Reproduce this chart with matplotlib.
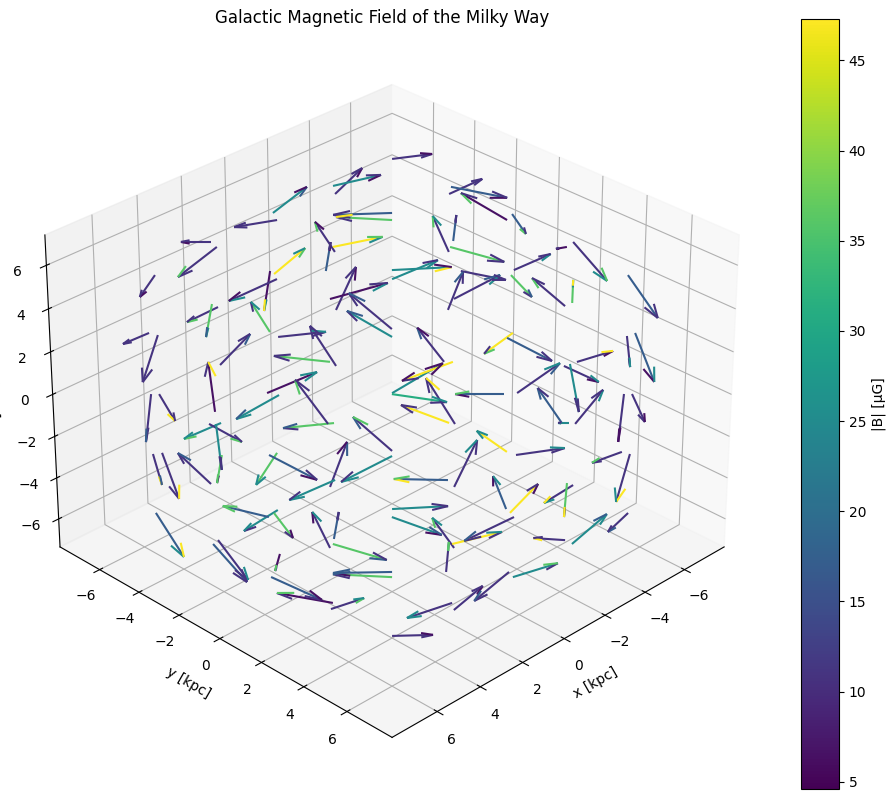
# Galactic magnetic field arrows
import numpy as np
import matplotlib
matplotlib.use('Agg')
import matplotlib.pyplot as plt

# Arrow tails [kpc]
x = [-0.03, -0.04, 1.90, 1.84, 3.76, 0.90, 0.95, 0.91, 2.76, 2.86,
     1.92, -3.76, -1.83, -1.91, -2.89, -2.78, -0.90, -0.93, -0.38, -0.00,
     -0.03, -1.03, -0.91, -3.62, -3.90, -4.56, -4.72, -5.53, -3.73, -1.97,
     -1.83, -2.67, -2.99, -3.60, -5.74, -6.52, -4.88, -6.75, -7.52, -4.73,
     -5.52, -5.74, 4.81, 4.63, 3.62, 4.47, 2.69, 2.94, 1.80, 0.88,
     0.96, 4.50, 4.80, 4.64, 5.52, 5.71, 6.59, 6.36, 5.68, 3.64,
     3.86, 1.83, 1.98, 0.89, 0.97, 2.92, -1.75, -0.02, -1.96, -0.00,
     -1.02, -0.90, -2.66, -0.01, -3.85, -3.63, -4.90, -2.99, -4.53, -4.71,
     -3.87, -6.51, -6.75, -5.51, -5.70, -4.53, -4.69, -3.74, -3.57, -1.98,
     -1.81, 7.43, 6.38, 6.56, 4.51, 4.83, 4.65, 5.14, 5.70, 4.65,
     2.69, 0.03, 1.80, 1.93, 3.87, 3.64, 3.74, 0.95, 1.51, 1.85,
     1.92, 3.77, 2.78, 2.86, 4.79, 0.03, -0.95, 0.93, -0.89, -0.92,
     -2.85, -2.74, -1.89, -3.70, -1.79, 0.02, 4.98]
y = [-5.53, -5.74, -6.75, -6.53, -7.55, -4.73, -4.87, -4.58, -5.53, -5.72,
     -3.89, -3.76, -4.56, -4.74, -2.89, -2.78, -3.63, -3.76, -3.54, -2.67,
     -2.99, -1.04, -0.91, -0.91, -0.98, -1.83, -1.90, -0.03, -0.96, -1.98,
     -1.83, -0.01, -0.04, -0.32, -0.00, 1.83, 0.93, 1.90, 3.73, 0.94,
     2.72, 2.84, -6.75, -6.51, -4.55, -3.92, -2.67, -2.99, -3.62, -1.78,
     -1.99, -3.60, -3.87, -3.70, -5.53, -5.72, -4.72, -4.52, -2.87, -1.80,
     -1.96, -0.92, -1.05, 0.89, 0.97, -0.01, 0.72, -0.02, 0.93, -0.01,
     1.96, 1.80, 2.65, 2.92, 1.90, 1.84, 3.88, 2.94, 3.63, 3.74,
     4.80, 4.66, 4.81, 5.49, 5.68, 6.34, 6.56, 4.64, 4.47, 3.88,
     3.62, -3.71, -1.82, -1.87, -0.88, -0.98, -0.92, -0.14, 0.01, 1.87,
     -0.00, 2.67, 1.80, 1.92, 0.95, 0.90, 0.95, 3.87, 4.05, 4.67,
     4.82, 3.77, 2.78, 2.86, 1.92, 5.53, 4.80, 3.76, 4.49, 4.64,
     5.70, 5.52, 6.58, 7.43, 6.36, 5.70, -3.07]
z = [5.55, 5.78, 4.85, 4.69, 3.79, 3.82, 3.92, 3.66, 2.77, 2.87,
     1.98, 7.52, 6.39, 6.65, 5.78, 5.55, 4.53, 4.69, 3.92, 2.68,
     3.03, 2.07, 1.82, 4.53, 4.88, 6.39, 6.62, 5.55, 4.69, 3.95,
     3.66, 2.68, 3.03, 3.92, 5.75, 4.69, 3.95, 4.85, 3.79, 3.79,
     2.80, 2.90, 1.95, 1.88, 0.93, -0.55, -0.02, 0.04, 1.82, 0.90,
     1.03, -0.90, -0.93, -0.93, 0.01, 0.01, -1.88, -1.84, -2.82, -1.84,
     -1.91, -0.90, -0.93, -1.78, -1.94, -2.91, 1.03, 0.04, 1.03, 0.01,
     -0.93, -0.90, 0.01, -2.91, 1.95, 1.79, 1.03, 0.04, 0.90, 0.96,
     -0.93, 1.85, 1.95, 0.01, 0.01, -1.81, -1.88, -0.90, -0.90, -1.91,
     -1.81, -3.72, -4.57, -4.69, -3.63, -3.85, -3.72, -5.00, -5.72, -6.52,
     -2.69, -2.69, -3.60, -3.85, -4.81, -4.53, -4.69, -4.81, -5.56, -6.52,
     -6.74, -7.54, -5.56, -5.72, -6.71, -5.56, -3.85, -4.69, -3.60, -3.72,
     -2.85, -2.79, -4.69, -3.72, -4.57, -5.72, -1.91]

# Field components, as drawn
bx = [1.03, -0.82, 0.72, 0.95, 0.38, -0.75, 0.74, 1.16, 0.75, 0.73,
      0.44, -0.96, -0.65, -1.15, 1.41, 1.34, 0.47, -1.19, -0.71, -0.48,
      -1.38, 1.02, 1.07, 0.39, -0.68, -0.79, -1.35, 1.11, -1.30, -1.43,
      -1.09, -0.35, -1.09, -1.08, -0.34, 0.26, -0.87, -0.84, -0.75, -0.51,
      0.80, -0.64, 0.63, 0.40, -0.73, 0.13, 1.03, -1.19, -1.14, 0.61,
      1.33, 0.89, -0.77, 0.46, -0.36, 0.72, 0.37, -0.37, 0.76, 0.51,
      -1.13, 1.21, 0.77, 0.92, 1.21, -0.41, 0.64, -1.20, 1.21, -1.31,
      0.69, 1.14, 1.16, -0.53, 0.68, -1.08, -0.85, -1.00, -0.84, 0.39,
      -0.64, 0.54, -0.50, 0.74, -0.33, 0.70, 0.29, 0.26, 0.59, -1.15,
      0.72, -0.63, -0.69, -0.78, 0.81, 1.08, -0.44, 0.70, -1.19, 1.31,
      1.09, 1.28, -1.32, -1.18, 0.41, -0.71, -1.27, 0.52, -0.67, 1.06,
      -0.67, -0.96, 1.39, 1.39, -0.78, 0.81, 1.17, -1.17, 0.32, -0.65,
      0.68, 0.68, -0.80, 0.46, 0.75, -1.05, 0.70]
by = [-1.03, 0.82, -0.72, -0.95, -0.38, 0.75, 0.46, -1.16, -0.75, 0.47,
      -0.44, 0.96, 0.65, 1.15, -1.41, -1.34, -0.47, 1.19, -0.49, 0.48,
      1.38, -1.02, -1.07, -0.39, -0.52, 0.79, 1.35, -1.11, 1.30, 1.43,
      1.09, 0.35, 1.09, 1.08, 0.34, -0.26, 0.87, 0.84, 0.75, 0.51,
      -0.80, -0.56, -0.63, -0.40, 0.73, -0.13, -1.03, 1.19, 1.14, -0.61,
      -1.33, -0.89, 0.77, 0.74, 0.36, 0.48, 0.83, 0.37, -0.76, -0.51,
      1.13, -1.21, -0.77, -0.92, -1.21, 0.41, -0.64, 1.20, -1.21, 1.31,
      -0.69, -1.14, -1.16, 0.53, -0.68, 1.08, 0.85, 1.00, 0.84, 0.81,
      0.64, 0.66, 0.50, 0.46, 0.33, -0.70, -0.29, -0.26, -0.59, 1.15,
      -0.72, 0.63, 0.69, 0.78, -0.81, -1.08, 0.44, 0.50, 1.19, -1.31,
      -1.09, -1.28, 1.32, 1.18, -0.41, -0.49, 1.27, -0.52, -0.53, -1.06,
      0.67, 0.96, -1.39, -1.39, 0.78, -0.81, -1.17, 1.17, -0.32, 0.65,
      -0.68, 0.52, 0.80, -0.46, -0.75, 1.05, 0.50]
bz = [-0.33, 1.21, 0.00, -1.41, -1.03, 1.21, -1.31, -1.03, -0.71, -0.98,
      1.41, 0.23, 1.20, 0.51, -0.09, 0.14, 1.40, 0.47, 0.80, 2.01,
      0.75, 1.68, 1.22, 1.67, 0.67, 0.70, -0.51, 1.25, -0.70, 0.14,
      0.89, 1.77, 1.12, -0.42, -0.93, -0.09, 0.75, -1.83, -2.02, -1.03,
      1.31, 0.52, -0.52, -2.23, 1.46, 2.35, -1.14, 0.99, 0.24, 1.88,
      0.28, -0.76, -0.86, -1.57, -1.28, -1.67, -0.85, -2.20, 1.47, -1.53,
      -1.19, -0.24, 2.08, 1.61, -1.24, 2.14, 1.60, 1.41, -0.90, -0.38,
      2.17, 0.85, 0.00, 2.23, -0.99, -1.09, 0.52, 1.41, -0.76, -1.68,
      1.61, -0.88, -2.32, -1.67, -1.33, -0.52, -2.30, 0.00, 1.65, 0.33,
      1.00, -2.12, -1.93, -1.84, -1.01, 0.53, -1.20, -0.16, -1.11, 0.48,
      -0.96, 0.05, 0.14, -0.86, 1.72, 0.65, -0.77, 1.44, 0.79, -0.73,
      1.16, 0.05, -0.05, 0.14, 0.53, -1.40, -1.15, 0.58, 1.57, 1.38,
      -0.86, -0.99, 1.43, -0.91, 0.10, 0.67, -0.71]

# |B| [uG] of each shaft
b_mag = [11, 25, 11, 11, 11, 47, 6.5, 11, 11, 36,
         36, 11, 11, 25, 17, 36, 11, 47, 17, 11,
         6.5, 11, 25, 11, 17, 11, 17, 6.5, 36, 25,
         25, 11, 11, 11, 17, 6.5, 11, 11, 17, 36,
         11, 36, 11, 11, 11, 6.5, 25, 6.5, 11, 11,
         36, 25, 11, 25, 11, 11, 11, 11, 11, 36,
         17, 36, 11, 11, 25, 11, 11, 25, 47, 31,
         11, 47, 17, 11, 47, 17, 11, 11, 11, 25,
         11, 11, 17, 11, 11, 11, 11, 25, 17, 11,
         47, 17, 11, 17, 25, 17, 36, 6.5, 17, 6.5,
         25, 17, 25, 25, 11, 17, 36, 11, 11, 11,
         11, 11, 17, 36, 11, 11, 11, 47, 17, 47,
         11, 36, 25, 11, 11, 25, 36]
# The two barbs of each head carry other colours in the reference
head_a = [11, 6.5, 6.5, 25, 36, 11, 6.5, 11, 36, 6.5,
          25, 11, 11, 6.5, 11, 25, 25, 36, 25, 11,
          36, 11, 17, 25, 11, 11, 36, 47, 47, 11,
          6.5, 36, 25, 17, 11, 11, 6.5, 36, 6.5, 6.5,
          25, 6.5, 11, 47, 17, 25, 11, 11, 11, 11,
          25, 11, 6.5, 17, 36, 6.5, 6.5, 36, 11, 6.5,
          25, 25, 47, 6.5, 6.5, 36, 25, 6.5, 17, 6.5,
          11, 47, 36, 11, 17, 25, 11, 11, 6.5, 17,
          11, 11, 36, 17, 47, 11, 47, 25, 11, 25,
          11, 17, 47, 25, 17, 36, 6.5, 6.5, 25, 11,
          25, 11, 25, 11, 25, 6.5, 36, 11, 25, 47,
          11, 36, 36, 36, 36, 17, 11, 25, 25, 6.5,
          17, 17, 25, 11, 47, 11, 36]
head_b = [17, 11, 36, 25, 25, 11, 6.5, 11, 25, 6.5,
          11, 36, 11, 36, 47, 11, 11, 6.5, 25, 11,
          25, 11, 11, 25, 11, 36, 11, 11, 11, 25,
          11, 17, 17, 6.5, 11, 11, 11, 11, 17, 11,
          11, 6.5, 11, 25, 11, 25, 11, 36, 11, 11,
          47, 6.5, 11, 36, 25, 11, 11, 11, 11, 6.5,
          11, 17, 11, 11, 11, 11, 47, 11, 25, 11,
          11, 6.5, 11, 11, 17, 11, 11, 11, 11, 17,
          11, 11, 11, 11, 11, 11, 17, 25, 11, 11,
          11, 17, 17, 11, 11, 11, 6.5, 6.5, 47, 36,
          11, 47, 25, 11, 25, 6.5, 25, 11, 25, 25,
          25, 6.5, 6.5, 11, 11, 25, 11, 36, 11, 17,
          25, 17, 25, 47, 17, 11, 36]

ticks = [-6, -4, -2, 0, 2, 4, 6]

fig = plt.figure(figsize=(8.96, 8.01), dpi=100)
side = 746
ax = fig.add_axes([(382 - side / 2) / 896, 1 - (404.5 + side / 2) / 801, side / 896, side / 801], projection='3d')

norm = plt.Normalize(4.6, 47.3)
cmap = plt.get_cmap('viridis')
# quiver takes shafts first, then the two barbs of each arrow
barbs = np.column_stack([head_a, head_b]).ravel()
colors = cmap(norm(np.concatenate([b_mag, barbs])))
ax.quiver(x, y, z, bx, by, bz, colors=colors)

ax.set_xlim(-8.05, 8.05)
ax.set_ylim(-8.05, 8.05)
ax.set_zlim(-7.38, 7.38)
ax.set_xticks(ticks)
ax.set_yticks(ticks)
ax.set_zticks(ticks)
ax.view_init(elev=30, azim=45)
ax.set_xlabel('x [kpc]')
ax.set_ylabel('y [kpc]')
ax.set_zlabel('z [kpc]')
ax.set_title('Galactic Magnetic Field of the Milky Way', pad=6)

cax = fig.add_axes([801 / 896, 1 - 789 / 801, 38 / 896, 770 / 801])
sm = plt.cm.ScalarMappable(norm=norm, cmap=cmap)
fig.colorbar(sm, cax=cax, label='|B| [µG]')

fig.savefig('out.png', dpi=100)
